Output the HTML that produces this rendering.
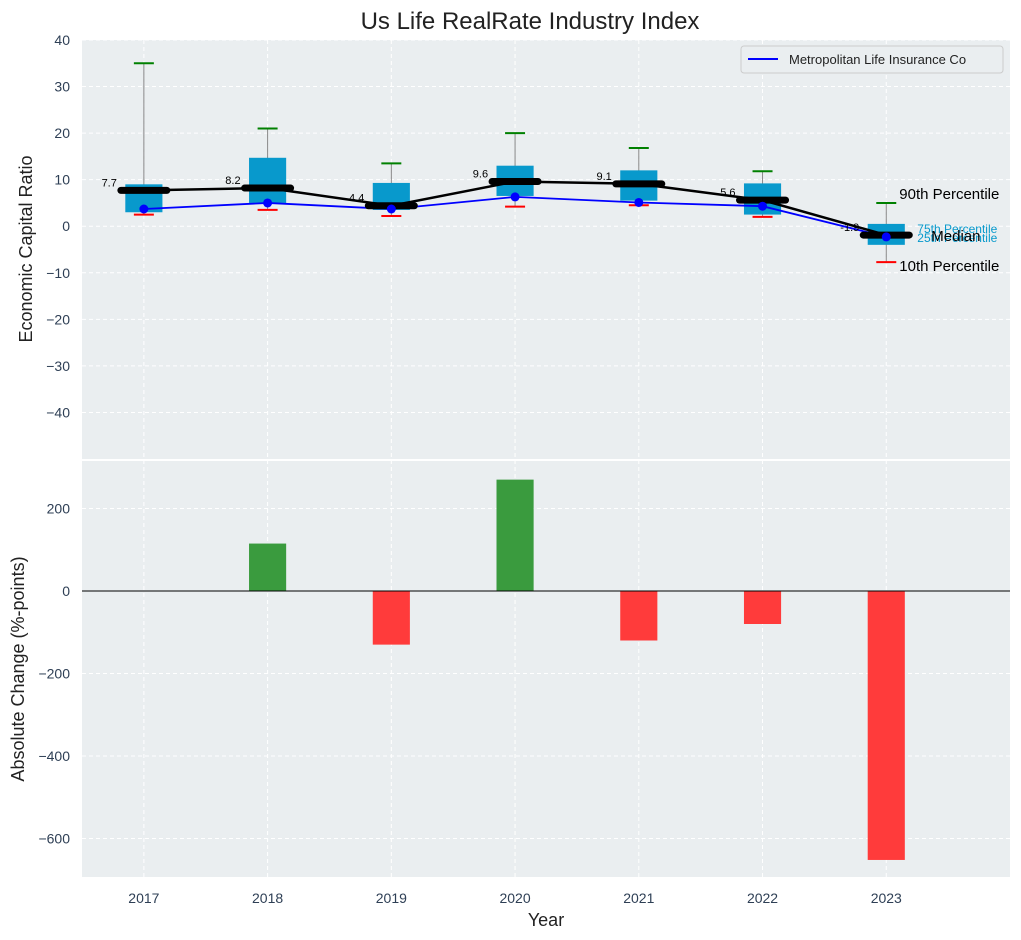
<!DOCTYPE html>
<html><head><meta charset="utf-8"><style>
body{margin:0;background:#fff;}
svg{display:block;font-family:"Liberation Sans","DejaVu Sans",sans-serif;}
</style></head><body>
<svg id="c" width="1021" height="940"></svg>
<script>
const years=[2017,2018,2019,2020,2021,2022,2023];
const p25=[3,5,3.5,6.5,5.5,2.5,-4];
const p75=[9,14.7,9.3,13,12,9.2,0.5];
const medians=[7.7,8.2,4.4,9.6,9.1,5.6,-1.9];
const p90=[35,21,13.5,20,16.8,11.8,5];
const p10=[2.5,3.5,2.2,4.2,4.5,2,-7.7];
const metlife=[3.7,5,3.7,6.3,5.1,4.3,-2.3];
const changes=[0,115,-130,270,-120,-80,-652];
const topTicks=[40,30,20,10,0,-10,-20,-30,-40];
const botTicks=[200,0,-200,-400,-600];

const NS="http://www.w3.org/2000/svg";
const svg=document.getElementById('c');
function el(t,a,txt){const e=document.createElementNS(NS,t);for(const k in a)e.setAttribute(k,a[k]);if(txt!==undefined)e.textContent=txt;svg.appendChild(e);return e;}
const X0=82,X1=1010;
const x=v=>X0+(v-2016.5)/(2024-2016.5)*(X1-X0);
const T0=40,T1=459;
const yT=v=>T0+(40-v)/90*(T1-T0);
const B0=460,B1=877;
const yB=v=>591-v*(82.5/200);

let e=el('rect',{x:X0,y:T0,width:X1-X0,height:T1-T0,fill:'#eaeef0'});

e=el('rect',{x:X0,y:B0+1,width:X1-X0,height:B1-B0-1,fill:'#eaeef0'});


years.forEach(yv=>{
 el('line',{x1:x(yv),x2:x(yv),y1:T0,y2:T1,stroke:'#fff','stroke-dasharray':'4,3','stroke-width':1});
 el('line',{x1:x(yv),x2:x(yv),y1:B0,y2:B1,stroke:'#fff','stroke-dasharray':'4,3','stroke-width':1});
 e=el('text',{x:x(yv),y:903,'text-anchor':'middle','font-size':14,fill:'#2e3f55'},yv);
 
});
topTicks.forEach(t=>{
 el('line',{x1:X0,x2:X1,y1:yT(t),y2:yT(t),stroke:'#fff','stroke-dasharray':'4,3'});
 e=el('text',{x:70,y:yT(t)+5,'text-anchor':'end','font-size':14,fill:'#2e3f55'},t<0?'\u2212'+(-t):t);
 
});
botTicks.forEach(t=>{
 el('line',{x1:X0,x2:X1,y1:yB(t),y2:yB(t),stroke:'#fff','stroke-dasharray':'4,3'});
 e=el('text',{x:70,y:yB(t)+5,'text-anchor':'end','font-size':14,fill:'#2e3f55'},t<0?'\u2212'+(-t):t);
 
});

const bw=0.3*(x(2018)-x(2017));
years.forEach((yv,i)=>{
 const cx=x(yv);
 e=el('line',{x1:cx,x2:cx,y1:yT(p90[i]),y2:yT(p10[i]),stroke:'#888','stroke-width':1});
 
 e=el('rect',{x:cx-bw/2,y:yT(p75[i]),width:bw,height:yT(p25[i])-yT(p75[i]),fill:'#0899cc'});
 
 e=el('line',{x1:cx-10,x2:cx+10,y1:yT(p90[i]),y2:yT(p90[i]),stroke:'green','stroke-width':2});
 
 e=el('line',{x1:cx-10,x2:cx+10,y1:yT(p10[i]),y2:yT(p10[i]),stroke:'red','stroke-width':2});
 
});
e=el('polyline',{points:years.map((yv,i)=>x(yv)+','+yT(medians[i])).join(' '),fill:'none',stroke:'#000','stroke-width':2.5});

e=el('polyline',{points:years.map((yv,i)=>x(yv)+','+yT(metlife[i])).join(' '),fill:'none',stroke:'#0000ff','stroke-width':1.8});

years.forEach((yv,i)=>{
 const cx=x(yv);
 e=el('line',{x1:cx-23,x2:cx+23,y1:yT(medians[i]),y2:yT(medians[i]),stroke:'#000','stroke-width':7,'stroke-linecap':'round'});
 
 e=el('circle',{cx:cx,cy:yT(metlife[i]),r:4.5,fill:'#0000ff'});
 
 e=el('text',{x:cx-27,y:yT(medians[i])-4,'text-anchor':'end','font-size':11,fill:'#000'},medians[i].toFixed(1));
 
});
const lx=x(2023);
e=el('text',{x:lx+13,y:yT(p90[6])-4,'font-size':15,fill:'#000'},'90th Percentile');

e=el('text',{x:lx+13,y:yT(p10[6])+9,'font-size':15,fill:'#000'},'10th Percentile');

e=el('text',{x:lx+31,y:233,'font-size':12,fill:'#0899cc'},'75th Percentile');

e=el('text',{x:lx+31,y:242,'font-size':12,fill:'#0899cc'},'25th Percentile');

e=el('text',{x:lx+45,y:yT(medians[6])+6,'font-size':15,fill:'#000'},'Median');


e=el('rect',{x:741,y:46,width:262,height:27,fill:'#eaeef0',stroke:'#ccc',rx:3});

el('line',{x1:748,x2:778,y1:59,y2:59,stroke:'#0000ff','stroke-width':2});
e=el('text',{x:789,y:64,'font-size':13,fill:'#222'},'Metropolitan Life Insurance Co');


years.forEach((yv,i)=>{
 const v=changes[i];if(v===0)return;
 e=el('rect',{x:x(yv)-bw/2,y:Math.min(yB(v),yB(0)),width:bw,height:Math.abs(yB(v)-yB(0)),fill:v>0?'#3a9b3e':'#ff3b3b'});
 
});
el('line',{x1:X0,x2:X1,y1:yB(0),y2:yB(0),stroke:'#000','stroke-width':1});

e=el('text',{x:530,y:29,'text-anchor':'middle','font-size':24,fill:'#222'},'Us Life RealRate Industry Index');

e=el('text',{x:0,y:0,'text-anchor':'middle','font-size':18,fill:'#222',transform:'translate(32,249) rotate(-90)'},'Economic Capital Ratio');

e=el('text',{x:0,y:0,'text-anchor':'middle','font-size':18,fill:'#222',transform:'translate(24,669) rotate(-90)'},'Absolute Change (%-points)');

e=el('text',{x:546,y:926,'text-anchor':'middle','font-size':18,fill:'#222'},'Year');

</script>
</body></html>
